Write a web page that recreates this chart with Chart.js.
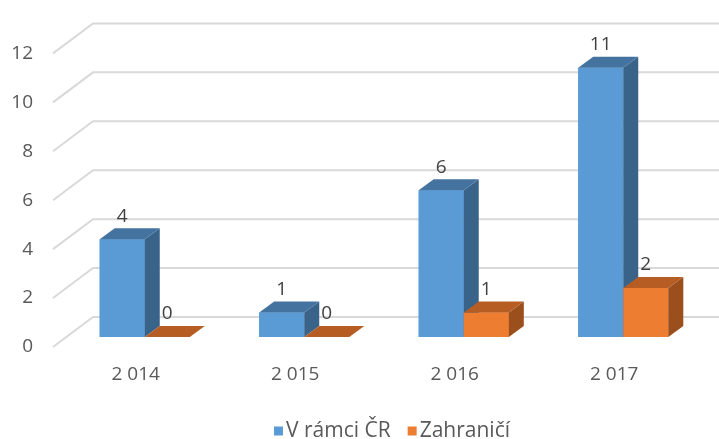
<!DOCTYPE html>
<html>
<head>
<meta charset="utf-8">
<script src="https://cdn.jsdelivr.net/npm/chart.js@4/dist/chart.umd.min.js"></script>
<style>
  html, body { margin: 0; padding: 0; background: #ffffff; }
  #c { display: block; }
</style>
</head>
<body>
<canvas id="c" width="719" height="439"></canvas>
<script>
const categories = ['2 014', '2 015', '2 016', '2 017'];
const seriesNames = ['V rámci ČR', 'Zahraničí'];
const domestic = [4, 1, 6, 11];
const foreign = [0, 0, 1, 2];
const yTickValues = [0, 2, 4, 6, 8, 10, 12];

const FONT = '"Open Sans", "Noto Sans", sans-serif';
const DEPTH_X = 15, DEPTH_Y = -11;

const gridPlugin = {
  id: 'grid3d',
  beforeDatasetsDraw(chart) {
    const ctx = chart.ctx, ys = chart.scales.y, a = chart.chartArea;
    ctx.save();
    ctx.strokeStyle = '#d9d9d9';
    ctx.lineWidth = 2;
    yTickValues.forEach(v => {
      const y = ys.getPixelForValue(v);
      ctx.beginPath();
      ctx.moveTo(a.left - 12, y + 10);
      ctx.lineTo(a.left + 28, y - 20);
      ctx.lineTo(chart.width, y - 20);
      ctx.stroke();
    });
    ctx.restore();
  }
};

const bar3dPlugin = {
  id: 'bar3d',
  afterDatasetsDraw(chart) {
    const ctx = chart.ctx;
    chart.data.datasets.forEach((ds, i) => {
      const meta = chart.getDatasetMeta(i);
      meta.data.forEach(el => {
        el.draw(ctx);
        const p = el.getProps(['x', 'y', 'base', 'width'], true);
        const l = p.x - p.width / 2, r = p.x + p.width / 2;
        ctx.save();
        ctx.fillStyle = ds.sideColor;
        ctx.beginPath();
        ctx.moveTo(r, p.y);
        ctx.lineTo(r + DEPTH_X, p.y + DEPTH_Y);
        ctx.lineTo(r + DEPTH_X, p.base + DEPTH_Y);
        ctx.lineTo(r, p.base);
        ctx.closePath();
        ctx.fill();
        ctx.fillStyle = ds.topColor;
        ctx.beginPath();
        ctx.moveTo(l, p.y);
        ctx.lineTo(l + DEPTH_X, p.y + DEPTH_Y);
        ctx.lineTo(r + DEPTH_X, p.y + DEPTH_Y);
        ctx.lineTo(r, p.y);
        ctx.closePath();
        ctx.fill();
        ctx.restore();
      });
    });
  }
};

const labelPlugin = {
  id: 'valueLabels',
  afterDatasetsDraw(chart) {
    const ctx = chart.ctx;
    ctx.save();
    ctx.fillStyle = '#404040';
    ctx.font = '19px ' + FONT;
    ctx.textAlign = 'center';
    ctx.textBaseline = 'middle';
    chart.data.datasets.forEach((ds, i) => {
      chart.getDatasetMeta(i).data.forEach((el, j) => {
        const p = el.getProps(['x', 'y'], true);
        ctx.fillText(String(ds.data[j]), p.x, p.y - 23);
      });
    });
    ctx.restore();
  }
};

const legendPlugin = {
  id: 'bottomLegend',
  afterDraw(chart) {
    const ctx = chart.ctx;
    ctx.save();
    ctx.font = '21px ' + FONT;
    ctx.textBaseline = 'middle';
    ctx.textAlign = 'left';
    const box = 9, gap = 3, spacing = 17;
    const items = chart.data.datasets.map(ds => ({ text: ds.label, color: ds.backgroundColor, w: box + gap + ctx.measureText(ds.label).width }));
    const total = items.reduce((s, it) => s + it.w, 0) + spacing * (items.length - 1);
    let x = 392 - total / 2;
    const y = 431;
    items.forEach(it => {
      ctx.fillStyle = it.color;
      ctx.fillRect(x, y - box / 2, box, box);
      ctx.fillStyle = '#595959';
      ctx.fillText(it.text, x + box + gap, y);
      x += it.w + spacing;
    });
    ctx.restore();
  }
};

new Chart(document.getElementById('c'), {
  type: 'bar',
  data: {
    labels: categories,
    datasets: [
      { label: seriesNames[0], data: domestic, backgroundColor: '#5b9bd5', topColor: '#4473a0', sideColor: '#3a638a', barPercentage: 1, categoryPercentage: 0.565 },
      { label: seriesNames[1], data: foreign, backgroundColor: '#ed7d31', topColor: '#b55d22', sideColor: '#9a4f1c', barPercentage: 1, categoryPercentage: 0.565 }
    ]
  },
  options: {
    responsive: false,
    devicePixelRatio: 1,
    animation: false,
    layout: { padding: { top: 42, right: 16, left: 0, bottom: 0 } },
    plugins: { legend: { display: false }, tooltip: { enabled: false } },
    scales: {
      x: {
        grid: { display: false, drawTicks: false },
        border: { display: false },
        ticks: { color: '#595959', font: { family: FONT, size: 19 }, padding: 26, labelOffset: -9 },
        afterFit(s) { s.height = 102; }
      },
      y: {
        min: 0, max: 12,
        grid: { display: false, drawTicks: false },
        border: { display: false },
        ticks: { stepSize: 2, color: '#595959', font: { family: FONT, size: 19 }, padding: 32, labelOffset: 10 },
        afterFit(s) { s.width = 65; }
      }
    }
  },
  plugins: [gridPlugin, bar3dPlugin, labelPlugin, legendPlugin]
});
</script>
</body>
</html>
